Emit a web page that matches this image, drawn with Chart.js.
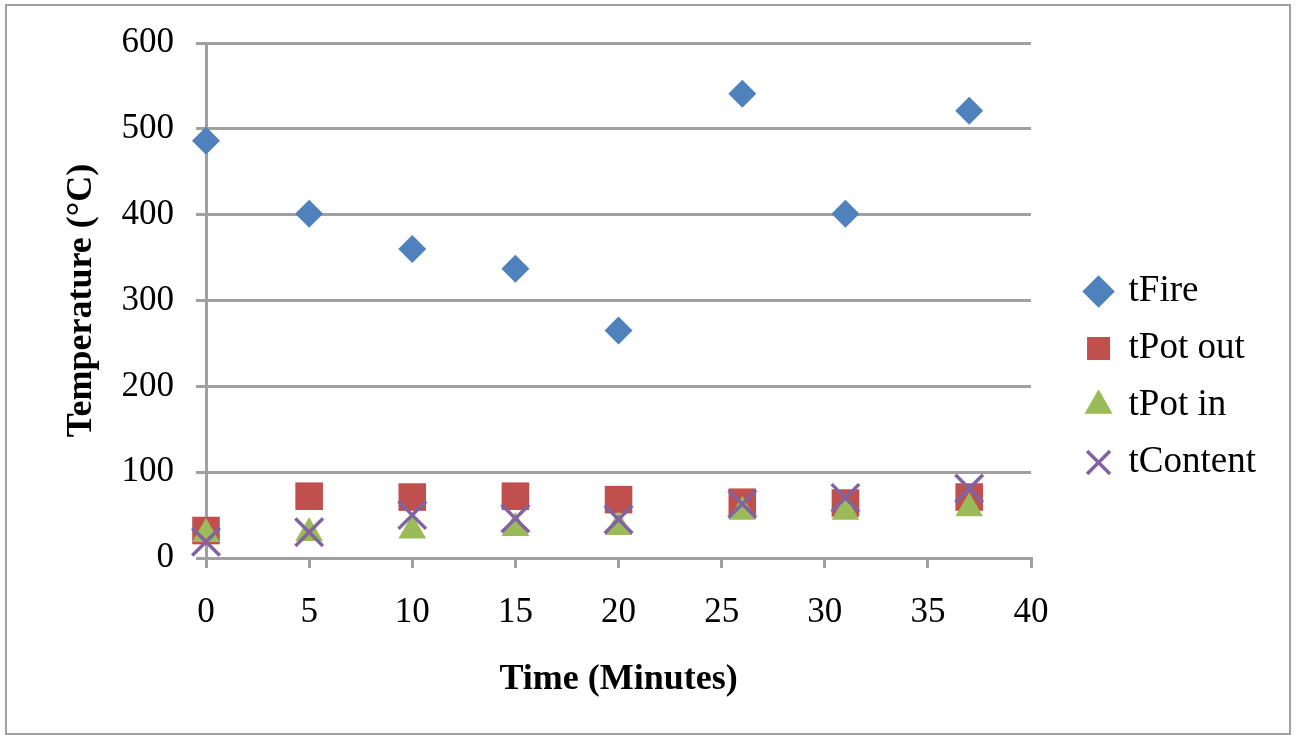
<!DOCTYPE html>
<html>
<head>
<meta charset="utf-8">
<script src="https://cdn.jsdelivr.net/npm/chart.js@4.4.1/dist/chart.umd.min.js"></script>
<style>
  html, body { margin: 0; padding: 0; background: #fff; }
  #wrap { position: relative; width: 1300px; height: 744px; }
  #frame { position: absolute; left: 5px; top: 4px; width: 1286px; height: 731px; border: 2px solid #a0a0a0; box-sizing: border-box; pointer-events: none; }
</style>
</head>
<body>
<div id="wrap">
  <canvas id="grafico" width="1300" height="744"></canvas>
  <div id="frame"></div>
</div>
<script>
// dados
const tempos = [0, 5, 10, 15, 20, 26, 31, 37];
const tFire = [486, 401, 360, 337, 265, 541, 401, 521];
const tPotOut = [32, 72, 71, 72, 68, 65, 64, 71];
const tPotIn = [28, 29, 32, 35, 36, 54, 54, 58];
const tContent = [19, 30, 50, 46, 45, 63, 70, 81];
const yTicks = [0, 100, 200, 300, 400, 500, 600];
const xTicks = [0, 5, 10, 15, 20, 25, 30, 35, 40];

const fonte = 'Liberation Serif';
const cinza = '#a0a0a0';

function pontos(valores) {
    return tempos.map((t, i) => ({ x: t, y: valores[i] }));
}

function criarDataset(label, valores, cor, estilo, raio, ordem) {
    return {
        label,
        data: pontos(valores),
        backgroundColor: cor,
        borderColor: cor,
        borderWidth: estilo === 'crossRot' ? 3.5 : 0,
        pointStyle: estilo,
        pointRadius: raio,
        pointHoverRadius: raio,
        showLine: false,
        clip: false,
        order: ordem
    };
}

// ordem: a última série fica por cima, como no original
const datasets = [
    criarDataset('tFire', tFire, '#4f81bd', 'rectRot', 14, 3),
    criarDataset('tPot out', tPotOut, '#c0504d', 'rect', 19.5, 2),
    criarDataset('tPot in', tPotIn, '#9bbb59', 'triangle', 16, 1),
    criarDataset('tContent', tContent, '#8064a2', 'crossRot', 19.5, 0)
];

// legenda: afasta da área do gráfico sem mudar o espaçamento
const legendaAjuste = {
    id: 'legendaAjuste',
    beforeLayout(chart) {
        const lg = chart.legend;
        if (!lg || lg._ajustada) return;
        lg._ajustada = true;
        const fit = lg.fit;
        lg.fit = function () { fit.call(this); this.width += 40; };
        const draw = lg.draw;
        lg.draw = function () {
            this.left += 36; this.right += 36; this.top += 4; this.bottom += 4;
            draw.call(this);
            this.left -= 36; this.right -= 36; this.top -= 4; this.bottom -= 4;
        };
    }
};

const ctx = document.getElementById('grafico').getContext('2d');

new Chart(ctx, {
    type: 'scatter',
    data: { datasets },
    plugins: [legendaAjuste],
    options: {
        responsive: false,
        animation: false,
        devicePixelRatio: 1,
        layout: { padding: { left: 20, top: 42, right: 30, bottom: 40 } },
        plugins: {
            tooltip: { enabled: false },
            legend: {
                position: 'right',
                labels: {
                    usePointStyle: true,
                    color: '#000',
                    font: { family: fonte, size: 37 },
                    padding: 20,
                    boxWidth: 23,
                    boxHeight: 23,
                    sort: (a, b) => a.datasetIndex - b.datasetIndex
                }
            }
        },
        scales: {
            x: {
                type: 'linear',
                min: 0,
                max: 40,
                afterBuildTicks: s => { s.ticks = xTicks.map(v => ({ value: v })); },
                afterFit: s => { s.height = 146; },
                ticks: { color: '#000', font: { family: fonte, size: 35 }, padding: 24 },
                grid: { drawOnChartArea: false, color: cinza, lineWidth: 3, tickLength: 10 },
                border: { color: cinza, width: 3 },
                title: {
                    display: true,
                    text: 'Time (Minutes)',
                    color: '#000',
                    font: { family: fonte, size: 36, weight: 'bold' },
                    padding: 3
                }
            },
            y: {
                min: 0,
                max: 600,
                afterBuildTicks: s => { s.ticks = yTicks.map(v => ({ value: v })); },
                afterFit: s => { s.width = 186; },
                ticks: { color: '#000', font: { family: fonte, size: 35 }, padding: 22 },
                grid: { color: cinza, lineWidth: 3, tickLength: 10 },
                border: { color: cinza, width: 3 },
                title: {
                    display: true,
                    text: 'Temperature (°C)',
                    color: '#000',
                    font: { family: fonte, size: 36, weight: 'bold' },
                    padding: 40
                }
            }
        }
    }
});
</script>
</body>
</html>
